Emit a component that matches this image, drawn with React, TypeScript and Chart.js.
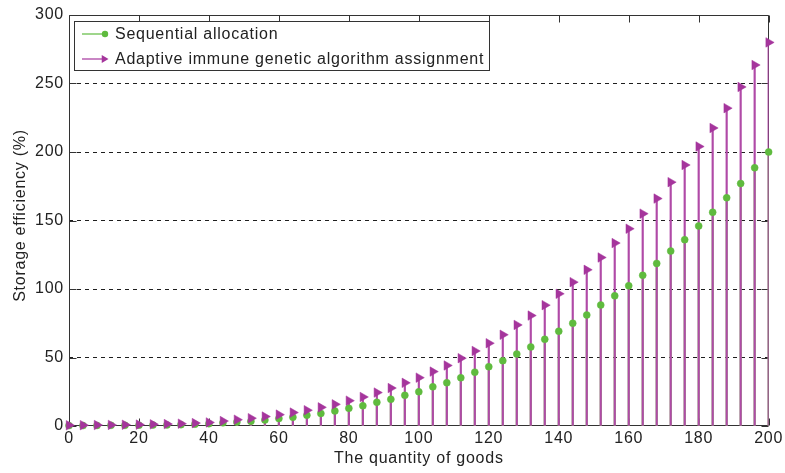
import React, { useEffect, useRef } from "react";
import { Chart, registerables } from "chart.js";

Chart.register(...registerables);

const QUANTITY = [
  0, 4, 8, 12, 16, 20, 24, 28, 32, 36, 40, 44, 48, 52, 56, 60, 64, 68, 72, 76,
  80, 84, 88, 92, 96, 100, 104, 108, 112, 116, 120, 124, 128, 132, 136, 140,
  144, 148, 152, 156, 160, 164, 168, 172, 176, 180, 184, 188, 192, 196, 200,
];

const SEQUENTIAL = [
  0.3, 0.3, 0.4, 0.5, 0.5, 0.6, 0.7, 0.8, 1.0, 1.3, 1.7, 2.3, 2.9, 3.4, 4.4,
  5.5, 6.4, 7.9, 9.2, 11.0, 12.9, 14.8, 17.3, 19.5, 22.4, 25.0, 28.6, 31.6,
  35.2, 39.3, 43.3, 47.7, 52.5, 57.7, 63.3, 69.2, 75, 81, 88.3, 95, 102.4, 110,
  118.7, 127.7, 136, 146, 156, 166.6, 177, 188.5, 200,
];

const ADAPTIVE = [
  0.5, 0.6, 0.7, 0.8, 0.9, 1.0, 1.2, 1.4, 1.7, 2.1, 2.6, 3.6, 4.6, 5.7, 6.9,
  8.3, 9.8, 11.5, 13.6, 15.8, 18.5, 21.2, 24.4, 27.7, 31.5, 35.3, 39.7, 44.2,
  49.5, 54.8, 60.4, 66.6, 73.8, 80.6, 88.2, 96.5, 105, 114, 123, 133.5, 144,
  155, 166, 178, 190.5, 204, 217.5, 232, 247.5, 263.5, 280,
];

const X_TICKS = [0, 20, 40, 60, 80, 100, 120, 140, 160, 180, 200];
const Y_TICKS = [0, 50, 100, 150, 200, 250, 300];
const SERIES_LABELS = [
  "Sequential allocation",
  "Adaptive immune genetic algorithm assignment",
];
const X_TITLE = "The quantity of goods";
const Y_TITLE = "Storage efficiency (%)";

const GREEN = "#5FBB3E";
const PURPLE = "#A5359C";
const STEM_PURPLE = "#B04AA7";
const STEM_GREEN = "#7CC95C";
const INK = "#222222";
const FRAME = "#333333";
const FONT_FAMILY = '"Liberation Sans", Arial, sans-serif';

function drawTriangleRight(ctx: CanvasRenderingContext2D, x: number, y: number, r: number) {
  ctx.beginPath();
  ctx.moveTo(x + r, y);
  ctx.lineTo(x - r / 2, y - (r * Math.sqrt(3)) / 2);
  ctx.lineTo(x - r / 2, y + (r * Math.sqrt(3)) / 2);
  ctx.closePath();
  ctx.fill();
}

const framePlugin = {
  id: "matlabFrame",
  beforeDraw(chart: any) {
    (chart.ctx as any).letterSpacing = "0.75px";
  },
  beforeDatasetsDraw(chart: any) {
    const ctx: CanvasRenderingContext2D = chart.ctx;
    const { left, right, top, bottom } = chart.chartArea;
    const xs = chart.scales.x;
    const ys = chart.scales.y;
    ctx.save();
    ctx.strokeStyle = FRAME;
    ctx.lineWidth = 1;
    const L = Math.round(left) + 0.5;
    const R = Math.round(right) - 0.5;
    const T = Math.round(top) + 0.5;
    const B = Math.round(bottom) - 0.5;
    ctx.beginPath();
    ctx.rect(L, T, R - L, B - T);
    const tl = 7;
    X_TICKS.forEach((v) => {
      const px = Math.round(xs.getPixelForValue(v)) + 0.5;
      ctx.moveTo(px, B);
      ctx.lineTo(px, B - tl);
      ctx.moveTo(px, T);
      ctx.lineTo(px, T + tl);
    });
    Y_TICKS.forEach((v) => {
      const py = Math.round(ys.getPixelForValue(v)) + 0.5;
      ctx.moveTo(L, py);
      ctx.lineTo(L + tl, py);
      ctx.moveTo(R, py);
      ctx.lineTo(R - tl, py);
    });
    ctx.stroke();
    ctx.restore();
  },
  afterDraw(chart: any) {
    const ctx: CanvasRenderingContext2D = chart.ctx;
    const { left, right, top, bottom } = chart.chartArea;
    ctx.save();
    (ctx as any).letterSpacing = "0.75px";
    ctx.font = `16px ${FONT_FAMILY}`;
    ctx.fillStyle = INK;
    ctx.textBaseline = "middle";

    // axis titles
    ctx.textAlign = "center";
    ctx.fillText(X_TITLE, (left + right) / 2, bottom + 33);
    ctx.save();
    ctx.translate(21, (top + bottom) / 2 - 5);
    ctx.rotate(-Math.PI / 2);
    ctx.fillText(Y_TITLE, 0, 0);
    ctx.restore();

    // legend
    const bx = Math.round(left) + 5;
    const by = Math.round(top) + 6;
    const bw = 415;
    const bh = 49;
    ctx.fillStyle = "#ffffff";
    ctx.fillRect(bx, by, bw, bh);
    ctx.strokeStyle = FRAME;
    ctx.lineWidth = 1;
    ctx.strokeRect(bx + 0.5, by + 0.5, bw, bh);

    const rows = [by + 13, by + 38];
    const colors = [GREEN, PURPLE];
    rows.forEach((ry, i) => {
      ctx.strokeStyle = colors[i];
      ctx.lineWidth = 1.2;
      ctx.beginPath();
      ctx.moveTo(bx + 8, ry);
      ctx.lineTo(bx + 32, ry);
      ctx.stroke();
      ctx.fillStyle = colors[i];
      if (i === 0) {
        ctx.beginPath();
        ctx.arc(bx + 31, ry, 3.2, 0, Math.PI * 2);
        ctx.fill();
      } else {
        drawTriangleRight(ctx, bx + 30, ry, 4.5);
      }
      ctx.fillStyle = INK;
      ctx.textAlign = "left";
      ctx.fillText(SERIES_LABELS[i], bx + 41, ry + 1);
    });
    ctx.restore();
  },
};

export default function App() {
  const canvasRef = useRef<HTMLCanvasElement | null>(null);

  useEffect(() => {
    document.body.style.margin = "0";
    const canvas = canvasRef.current;
    if (!canvas) return;

    const seqPoints = QUANTITY.map((q, i) => ({ x: q, y: SEQUENTIAL[i] }));
    const adaPoints = QUANTITY.map((q, i) => ({ x: q, y: ADAPTIVE[i] }));

    const chart = new Chart(canvas, {
      type: "bar",
      data: {
        datasets: [
          {
            type: "line",
            label: SERIES_LABELS[1],
            data: adaPoints,
            showLine: false,
            pointStyle: "triangle",
            pointRotation: 90,
            pointRadius: 5.5,
            pointBackgroundColor: PURPLE,
            pointBorderColor: PURPLE,
            pointBorderWidth: 0.5,
            clip: false,
            order: 1,
          } as any,
          {
            type: "line",
            label: SERIES_LABELS[0],
            data: seqPoints,
            showLine: false,
            pointStyle: "circle",
            pointRadius: 3.5,
            pointBackgroundColor: GREEN,
            pointBorderColor: GREEN,
            pointBorderWidth: 0.5,
            clip: false,
            order: 2,
          } as any,
          {
            type: "bar",
            label: "stems-adaptive",
            data: adaPoints,
            backgroundColor: STEM_PURPLE,
            barThickness: 1.5,
            grouped: false,
            order: 3,
          } as any,
          {
            type: "bar",
            label: "stems-sequential",
            data: seqPoints,
            backgroundColor: STEM_GREEN,
            barThickness: 1.5,
            grouped: false,
            order: 4,
          } as any,
        ],
      },
      options: {
        animation: false,
        responsive: true,
        maintainAspectRatio: false,
        layout: { padding: { top: 15, right: 16, bottom: 0, left: 0 } },
        plugins: {
          legend: { display: false },
          tooltip: { enabled: false },
        },
        scales: {
          x: {
            type: "linear",
            min: 0,
            max: 200,
            offset: false,
            grid: { display: false, drawTicks: false },
            border: { display: false },
            ticks: {
              stepSize: 20,
              padding: 3,
              color: INK,
              font: { family: FONT_FAMILY, size: 16 },
              maxRotation: 0,
              autoSkip: false,
            },
            afterFit: (scale: any) => {
              scale.height = 47;
            },
          },
          y: {
            type: "linear",
            min: 0,
            max: 300,
            grid: {
              drawTicks: false,
              lineWidth: 1,
              color: (ctx: any) =>
                ctx.tick && (ctx.tick.value === 0 || ctx.tick.value === 300)
                  ? "rgba(0,0,0,0)"
                  : "#1e1e1e",
            },
            border: { display: false, dash: [4, 4] },
            ticks: {
              stepSize: 50,
              padding: 5,
              color: INK,
              font: { family: FONT_FAMILY, size: 16 },
            },
            afterFit: (scale: any) => {
              scale.width = 69;
            },
          },
        },
      } as any,
      plugins: [framePlugin],
    });

    return () => {
      chart.destroy();
    };
  }, []);

  return (
    <div style={{ position: "absolute", left: 0, top: 0, width: 785, height: 473 }}>
      <canvas ref={canvasRef} />
    </div>
  );
}
